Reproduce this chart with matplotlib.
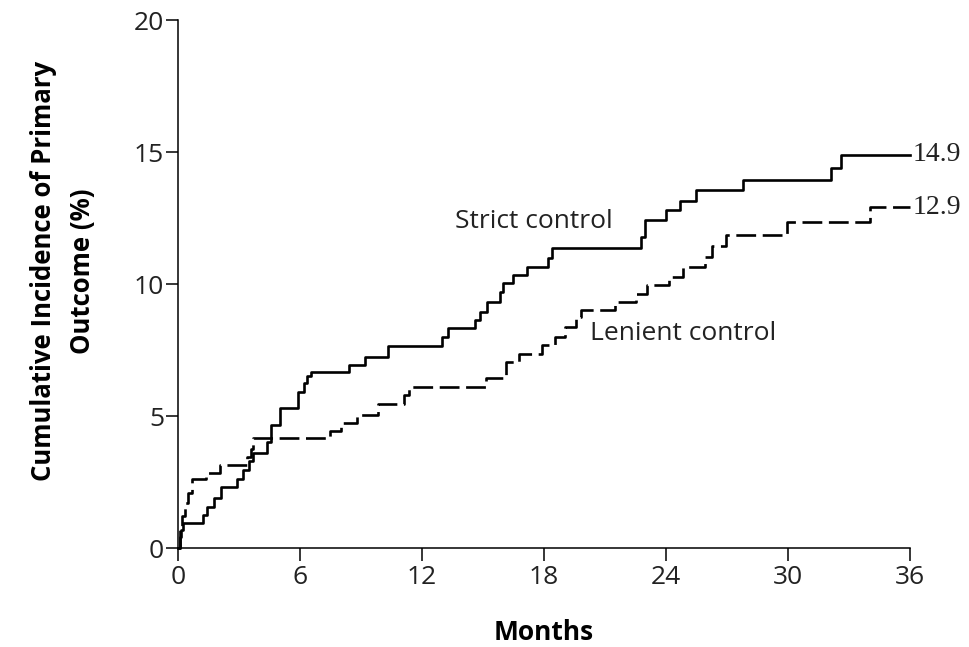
import matplotlib.pyplot as plt

# === DATA ===
strict_months = [0, 0.08, 0.16, 0.25, 1.25, 1.45, 1.75, 2.1, 2.9, 3.2, 3.5, 3.7, 4.4, 4.55,
                 5.0, 5.9, 6.2, 6.35, 6.55, 8.4, 9.2, 10.35, 13.0, 13.3, 14.6, 14.85, 15.2,
                 15.85, 16.0, 16.5, 17.15, 18.2, 18.38, 22.75, 22.95, 24.0, 24.7, 25.5, 27.8,
                 32.1, 32.6, 36]
strict_pct = [0, 0.4, 0.7, 0.95, 1.25, 1.55, 1.9, 2.3, 2.6, 2.95, 3.3, 3.6, 4.0, 4.65,
              5.3, 5.9, 6.25, 6.5, 6.65, 6.95, 7.25, 7.65, 8.0, 8.32, 8.64, 8.95, 9.33,
              9.71, 10.03, 10.34, 10.66, 10.97, 11.38, 11.8, 12.42, 12.8, 13.15, 13.55, 13.95,
              14.4, 14.9, 14.9]

lenient_months = [0, 0.08, 0.18, 0.34, 0.5, 0.7, 1.4, 2.05, 3.4, 3.6, 3.7, 7.5, 8.0, 8.8,
                  9.85, 11.1, 11.35, 15.15, 16.15, 16.75, 17.9, 18.55, 19.05, 19.6, 19.8,
                  21.5, 22.55, 23.05, 24.15, 24.85, 25.9, 26.25, 26.95, 29.95, 34.05, 36]
lenient_pct = [0, 0.7, 1.2, 1.7, 2.1, 2.6, 2.85, 3.15, 3.45, 3.75, 4.15, 4.45, 4.75, 5.05,
               5.45, 5.8, 6.1, 6.45, 7.05, 7.35, 7.7, 8.0, 8.38, 8.75, 9.0,
               9.33, 9.62, 9.96, 10.28, 10.66, 11.03, 11.45, 11.85, 12.35, 12.9, 12.9]

x_ticks = [0, 6, 12, 18, 24, 30, 36]
y_ticks = [0, 5, 10, 15, 20]

SANS = "Open Sans"
TXT = "#222222"

# === PLOT ===
fig = plt.figure(figsize=(9.69, 6.47), dpi=100)
ax = fig.add_axes([0.1837, 0.153, 0.7553, 0.816])

ax.step(strict_months, strict_pct, where="post", color="black", lw=1.9, clip_on=False)
ax.step(lenient_months, lenient_pct, where="post", color="black", lw=1.9,
        linestyle=(0, (7.5, 2.5)), clip_on=False)

ax.set_xlim(0, 36)
ax.set_ylim(0, 20)
ax.set_xticks(x_ticks)
ax.set_yticks(y_ticks)
ax.tick_params(axis="both", direction="out", length=9, width=1.1, color="black",
               labelsize=19, labelcolor=TXT)
ax.tick_params(axis="y", pad=1)
ax.tick_params(axis="x", pad=3)
for lbl in ax.get_xticklabels() + ax.get_yticklabels():
    lbl.set_family(SANS)

for side in ["top", "right"]:
    ax.spines[side].set_visible(False)
for side in ["left", "bottom"]:
    ax.spines[side].set_linewidth(1.1)

ax.set_xlabel("Months", family=SANS, fontsize=19, fontweight="bold", labelpad=21)
ax.set_ylabel("Cumulative Incidence of Primary\nOutcome (%)", family=SANS, fontsize=18.5,
              fontweight="bold", linespacing=1.55)
ax.yaxis.set_label_coords(-0.112, 0.525)

# curve labels
ax.text(13.62, 12.35, "Strict control", family=SANS, fontsize=19, va="center", ha="left",
        color=TXT)
ax.text(20.27, 8.14, "Lenient control", family=SANS, fontsize=19, va="center", ha="left",
        color=TXT)

# final values at the right end
ax.text(36.15, strict_pct[-1], f"{strict_pct[-1]:.1f}", family="Liberation Serif",
        fontsize=20, va="center", ha="left", color=TXT, clip_on=False)
ax.text(36.15, lenient_pct[-1], f"{lenient_pct[-1]:.1f}", family="Liberation Serif",
        fontsize=20, va="center", ha="left", color=TXT, clip_on=False)

fig.savefig("out.png", dpi=100)
